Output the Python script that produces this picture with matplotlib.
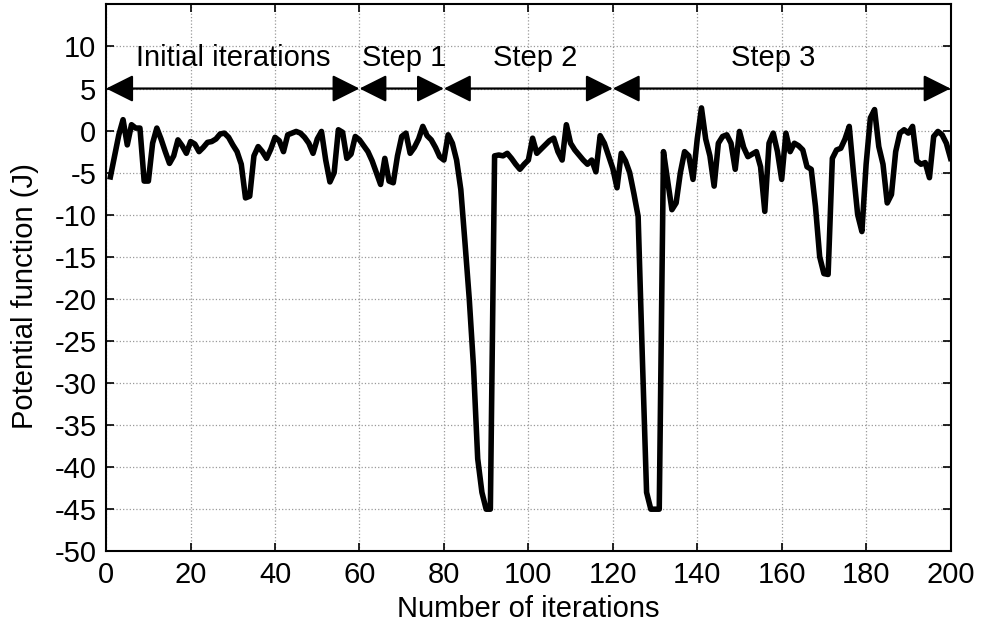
import numpy as np
import matplotlib.pyplot as plt

plt.rcParams['font.family'] = ['Liberation Sans', 'DejaVu Sans']
plt.rcParams['axes.unicode_minus'] = False

# potential function value at each iteration
potential = [
    -5.5, -3.0, -0.5, 1.3, -1.7, 0.7, 0.3, 0.3, -6.0, -6.0,
    -1.5, 0.3, -1.0, -2.5, -3.9, -3.0, -1.1, -1.8, -2.7, -1.3,
    -1.6, -2.5, -2.0, -1.4, -1.3, -1.0, -0.4, -0.3, -0.8, -1.7,
    -2.5, -4.0, -8.0, -7.8, -3.0, -1.9, -2.5, -3.3, -2.2, -0.8,
    -1.2, -2.5, -0.5, -0.3, -0.1, -0.3, -0.8, -1.5, -2.7, -1.0,
    -0.1, -3.5, -6.1, -5.0, 0.1, -0.2, -3.3, -2.8, -0.7, -1.1,
    -1.8, -2.5, -3.6, -5.0, -6.4, -3.3, -6.0, -6.2, -3.0, -0.7,
    -0.3, -2.7, -2.0, -1.0, 0.5, -0.6, -1.1, -2.0, -3.1, -3.5,
    -0.5, -1.5, -3.5, -7.0, -13.4, -20.0, -28.0, -39.0, -43.0, -45.0,
    -45.0, -3.0, -2.9, -3.0, -2.7, -3.3, -4.0, -4.6, -4.0, -3.5,
    -0.9, -2.7, -2.2, -1.7, -1.2, -0.9, -2.5, -3.5, 0.7, -1.5,
    -2.3, -2.9, -3.5, -4.0, -3.5, -4.9, -0.6, -1.5, -3.0, -4.5,
    -6.8, -2.7, -3.6, -5.0, -7.5, -10.2, -27.0, -43.0, -45.0, -45.0,
    -45.0, -2.5, -6.0, -9.4, -8.6, -5.0, -2.5, -3.0, -5.8, -1.0,
    2.7, -1.0, -3.0, -6.6, -1.5, -0.7, -0.5, -1.5, -4.6, -0.1,
    -2.0, -3.1, -2.8, -2.5, -4.3, -9.6, -1.5, -0.3, -2.5, -5.8,
    -0.3, -2.5, -1.5, -1.8, -2.3, -4.3, -4.6, -9.0, -15.0, -17.0,
    -17.1, -3.3, -2.3, -2.1, -1.0, 0.5, -5.0, -10.0, -12.0, -4.0,
    1.5, 2.5, -1.9, -4.0, -8.6, -7.6, -2.5, -0.3, 0.1, -0.3,
    0.5, -3.6, -4.0, -3.8, -5.6, -0.7, -0.1, -0.5, -1.5, -3.3,
]
iterations = np.arange(1, len(potential) + 1)

# phases of the search
stage_names = ['Initial iterations', 'Step 1', 'Step 2', 'Step 3']
stage_bounds = [0, 60, 80, 120, 200]
stage_text_x = [30, 70.5, 101.5, 158]

fig = plt.figure(figsize=(9.83, 6.3), dpi=100)
ax = fig.add_axes([0.108, 0.125, 0.859, 0.868])

ax.plot(iterations, potential, color='black', lw=4, solid_joinstyle='round')

for i in range(len(stage_names)):
    ax.annotate('', xy=(stage_bounds[i], 5), xytext=(stage_bounds[i + 1], 5),
                arrowprops=dict(arrowstyle='<|-|>,head_length=1.2,head_width=0.6',
                                color='black', lw=1.6, mutation_scale=14,
                                shrinkA=0, shrinkB=0))
    ax.text(stage_text_x[i], 8.6, stage_names[i], ha='center', va='center',
            fontsize=21)

ax.set_xlim(0, 200)
ax.set_ylim(-50, 15)
ax.set_xticks(np.arange(0, 201, 20))
ax.set_yticks(np.arange(-50, 11, 5))
ax.grid(True, linestyle=':', color='#999999', lw=0.9)
ax.tick_params(direction='in', top=True, right=True, labelsize=21, length=6,
               width=1.2)
ax.tick_params(axis='x', pad=7)
ax.tick_params(axis='y', pad=7)
for s in ax.spines.values():
    s.set_linewidth(1.5)

ax.set_xlabel('Number of iterations', fontsize=21, labelpad=4)
ax.set_ylabel('Potential function (J)', fontsize=21)
ax.yaxis.set_label_coords(-0.08, 0.467)

fig.savefig('out.png', dpi=100)
